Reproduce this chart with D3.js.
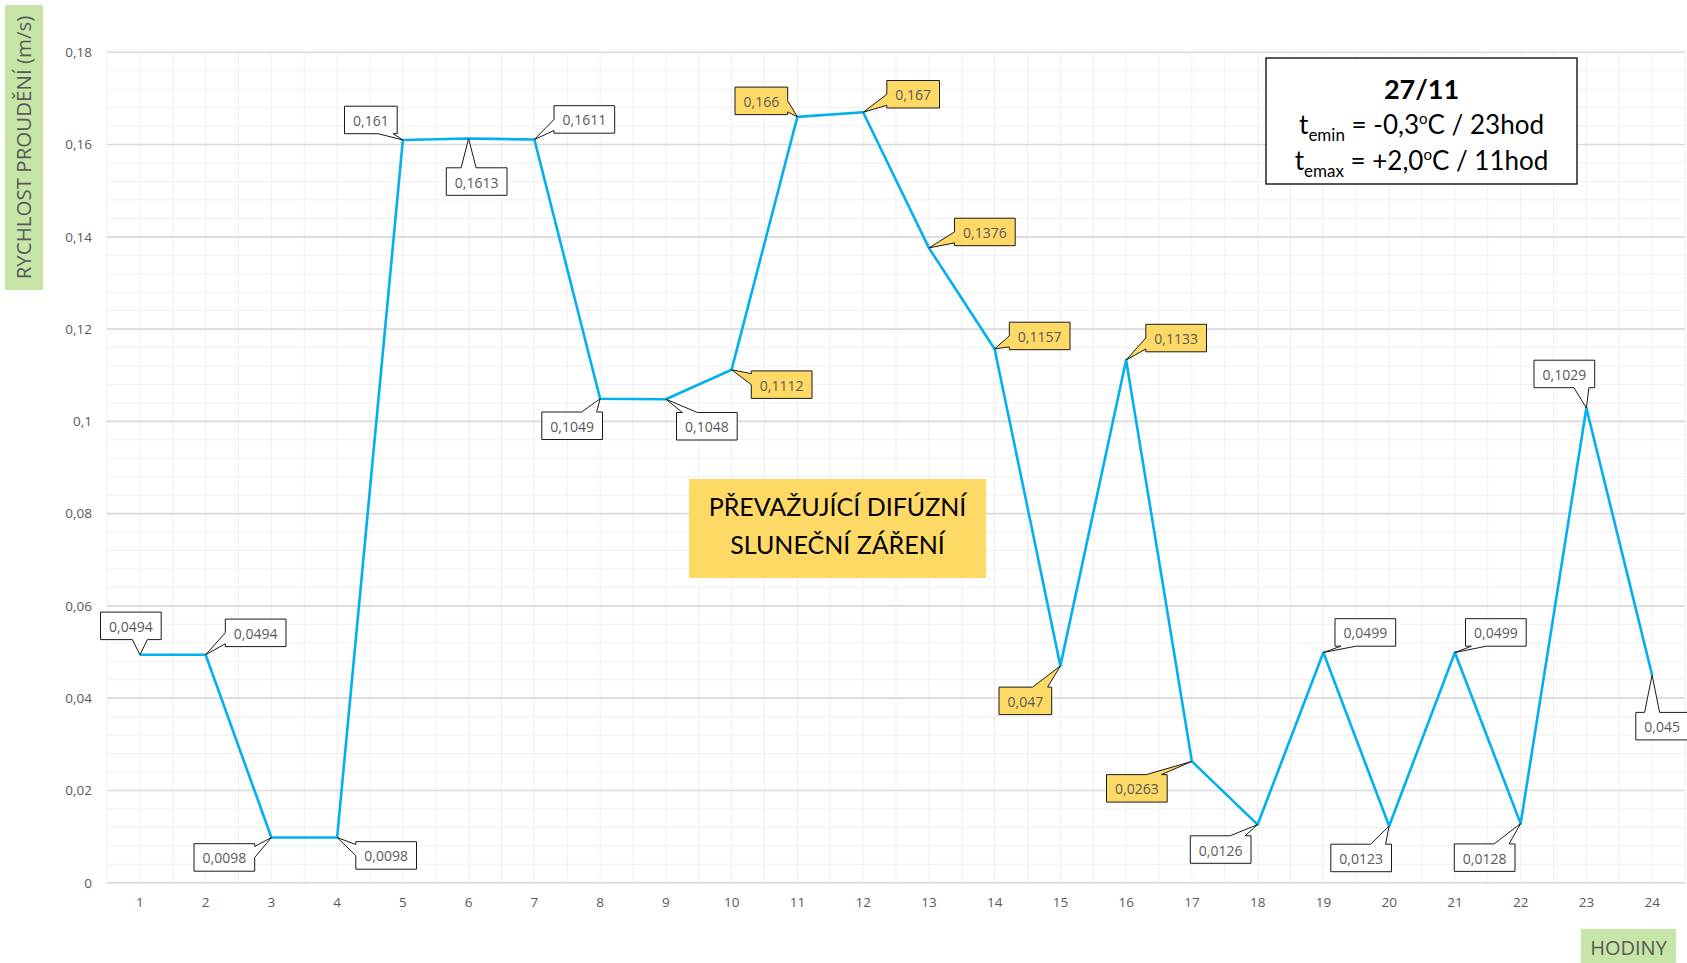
<!DOCTYPE html>
<html><head><meta charset="utf-8">
<script src="https://cdn.jsdelivr.net/npm/d3@7/dist/d3.min.js"></script>
<style>
html,body{margin:0;padding:0;background:#fff;}
svg{display:block;}
</style></head>
<body>
<svg id="c" width="1687" height="963"></svg>
<script>
// ---- data ----
const hours = ["1","2","3","4","5","6","7","8","9","10","11","12","13","14","15","16","17","18","19","20","21","22","23","24"];
const speed = [0.0494,0.0494,0.0098,0.0098,0.161,0.1613,0.1611,0.1049,0.1048,0.1112,0.166,0.167,0.1376,0.1157,0.047,0.1133,0.0263,0.0126,0.0499,0.0123,0.0499,0.0128,0.1029,0.045];
const pointLabels = ["0,0494","0,0494","0,0098","0,0098","0,161","0,1613","0,1611","0,1049","0,1048","0,1112","0,166","0,167","0,1376","0,1157","0,047","0,1133","0,0263","0,0126","0,0499","0,0123","0,0499","0,0128","0,1029","0,045"];
const highlighted = [false,false,false,false,false,false,false,false,false,true,true,true,true,true,true,true,true,false,false,false,false,false,false,false];
const yTicks = [0,0.02,0.04,0.06,0.08,0.1,0.12,0.14,0.16,0.18];
const yTickLabels = ["0","0,02","0,04","0,06","0,08","0,1","0,12","0,14","0,16","0,18"];
const yTitle = "RYCHLOST PROUDĚNÍ (m/s)";
const xTitle = "HODINY";
const noteLines = ["PŘEVAŽUJÍCÍ DIFÚZNÍ","SLUNEČNÍ ZÁŘENÍ"];
const infoDate = "27/11";

// ---- layout (label box offsets relative to the point, px) ----
const labelOffsets = [[-9,-29],[50,-22],[-47,20],[49,18],[-32,-20],[8,43],[50,-20],[-28,27],[41,27],[50,15],
  [-36,-16],[50,-18],[56,-16],[45,-13],[-35,35],[50,-22],[-55,27],[-37,25],[42,-20],[-28,32],[41,-20],[-36,34],[-22,-34],[10,51]];

const svg = d3.select("#c");
const L = 107, R = 1685, T = 52.3, B = 882.7;
const x = d3.scaleBand().domain(hours).range([L, R]).paddingInner(0).paddingOuter(0);
const y = d3.scaleLinear().domain([0, 0.18]).range([B, T]);
const cx = d => x(d) + x.bandwidth()/2;

// minor grid
const g = svg.append("g");
const minorY = d3.range(0, 0.1801, 0.004).filter(v => Math.abs(v/0.02 - Math.round(v/0.02)) > 1e-6);
g.selectAll("line.my").data(minorY).enter().append("line")
  .attr("x1", L).attr("x2", R).attr("y1", d => y(d)).attr("y2", d => y(d))
  .attr("stroke", "#f0f0f0").attr("stroke-width", 1);
const vpos = [];
hours.forEach(h => { vpos.push(x(h)); vpos.push(cx(h)); });
vpos.push(R);
g.selectAll("line.mx").data(vpos).enter().append("line")
  .attr("x1", d => d).attr("x2", d => d).attr("y1", T).attr("y2", B)
  .attr("stroke", "#efefef").attr("stroke-width", 1);
// major grid
g.selectAll("line.M").data(yTicks).enter().append("line")
  .attr("x1", L).attr("x2", R).attr("y1", d => y(d)).attr("y2", d => y(d))
  .attr("stroke", "#d9d9d9").attr("stroke-width", 1.6);

// axes
const yAxis = d3.axisLeft(y).tickValues(yTicks).tickSize(0).tickPadding(0)
  .tickFormat((d,i) => yTickLabels[i]);
const ya = svg.append("g").attr("transform", `translate(${92},0)`).call(yAxis);
ya.select(".domain").remove();
ya.selectAll("text").attr("font-family", "Open Sans").attr("font-size", 13.5).attr("fill", "#595959");

const xAxis = d3.axisBottom(x).tickSize(0).tickPadding(0);
const xa = svg.append("g").attr("transform", `translate(0,${897})`).call(xAxis);
xa.select(".domain").remove();
xa.selectAll("text").attr("font-family", "Open Sans").attr("font-size", 13.5).attr("fill", "#595959");

// line
const line = d3.line().x((d,i) => cx(hours[i])).y(d => y(d));
svg.append("path").datum(speed).attr("d", line)
  .attr("fill", "none").attr("stroke", "#00b0f0").attr("stroke-width", 2.6)
  .attr("stroke-linejoin", "round");

// callouts
function calloutPath(bx, by, bw, bh, px, py) {
  const ccx = bx + bw/2, ccy = by + bh/2;
  const dxn = (px - ccx)/(bw/2), dyn = (py - ccy)/(bh/2);
  let side;
  if (Math.abs(dyn) >= Math.abs(dxn)) side = dyn < 0 ? "top" : "bottom";
  else side = dxn < 0 ? "left" : "right";
  const clamp = (v, a, b) => Math.max(a, Math.min(b, v));
  const pts = [[bx, by]];
  if (side === "top") {
    const c = clamp(px, bx + 0.22*bw, bx + 0.78*bw), h = 7.5;
    pts.push([c-h, by], [px, py], [c+h, by]);
  }
  pts.push([bx+bw, by]);
  if (side === "right") {
    const c = clamp(py, by + 0.3*bh, by + 0.7*bh), h = 5.5;
    pts.push([bx+bw, c-h], [px, py], [bx+bw, c+h]);
  }
  pts.push([bx+bw, by+bh]);
  if (side === "bottom") {
    const c = clamp(px, bx + 0.22*bw, bx + 0.78*bw), h = 7.5;
    pts.push([c+h, by+bh], [px, py], [c-h, by+bh]);
  }
  pts.push([bx, by+bh]);
  if (side === "left") {
    const c = clamp(py, by + 0.3*bh, by + 0.7*bh), h = 5.5;
    pts.push([bx, c+h], [px, py], [bx, c-h]);
  }
  return "M" + pts.map(p => p[0].toFixed(1) + "," + p[1].toFixed(1)).join("L") + "Z";
}

const cg = svg.append("g");
speed.forEach((v, i) => {
  const px = cx(hours[i]), py = y(v);
  const gi = cg.append("g");
  const path = gi.append("path");
  const t = gi.append("text").text(pointLabels[i])
    .attr("font-family", "Open Sans").attr("font-size", 14).attr("fill", "#595959")
    .attr("text-anchor", "middle").attr("dominant-baseline", "central");
  const tw = t.node().getComputedTextLength();
  const bw = tw + 17, bh = 27.5;
  const bcx = px + labelOffsets[i][0], bcy = py + labelOffsets[i][1];
  t.attr("x", bcx).attr("y", bcy + 0.5);
  path.attr("d", calloutPath(bcx - bw/2, bcy - bh/2, bw, bh, px, py))
    .attr("fill", highlighted[i] ? "#ffd966" : "#ffffff")
    .attr("stroke", "#1a1a1a").attr("stroke-width", 1);
});

// note box
svg.append("rect").attr("x", 689).attr("y", 479).attr("width", 297).attr("height", 99).attr("fill", "#ffd966");
noteLines.forEach((s, i) => {
  svg.append("text").text(s).attr("x", 837.5).attr("y", 516 + i*38)
    .attr("text-anchor", "middle").attr("font-family", "Lato").attr("font-size", 25).attr("fill", "#000");
});

// info box
svg.append("rect").attr("x", 1266).attr("y", 58).attr("width", 311).attr("height", 126)
  .attr("fill", "#fff").attr("stroke", "#000").attr("stroke-width", 1.3);
svg.append("text").text(infoDate).attr("x", 1421.5).attr("y", 99).attr("text-anchor", "middle")
  .attr("font-family", "Lato").attr("font-weight", "bold").attr("font-size", 27).attr("fill", "#000");
function infoLine(yy, sub, rest, deg, tail) {
  const t = svg.append("text").attr("x", 1421.5).attr("y", yy).attr("text-anchor", "middle")
    .attr("font-family", "Lato").attr("font-size", 26).attr("fill", "#000");
  t.append("tspan").text("t");
  t.append("tspan").text(sub).attr("font-size", 17).attr("dy", 7);
  t.append("tspan").text(rest).attr("dy", -7);
  t.append("tspan").text("o").attr("font-size", 15).attr("dy", -10);
  t.append("tspan").text(tail).attr("dy", 10);
}
infoLine(134, "emin", " = -0,3", "o", "C / 23hod");
infoLine(170, "emax", " = +2,0", "o", "C / 11hod");

// axis titles
svg.append("rect").attr("x", 5).attr("y", 5).attr("width", 38).attr("height", 285).attr("fill", "#c6e5a6");
svg.append("text").text(yTitle).attr("transform", "translate(31,147.5) rotate(-90)")
  .attr("text-anchor", "middle").attr("font-family", "Open Sans").attr("font-size", 20.5).attr("fill", "#595959");
svg.append("rect").attr("x", 1581).attr("y", 929).attr("width", 95).attr("height", 34).attr("fill", "#c6e5a6");
svg.append("text").text(xTitle).attr("x", 1628.5).attr("y", 955).attr("text-anchor", "middle")
  .attr("font-family", "Open Sans").attr("font-size", 20).attr("fill", "#595959");
</script>
</body></html>
